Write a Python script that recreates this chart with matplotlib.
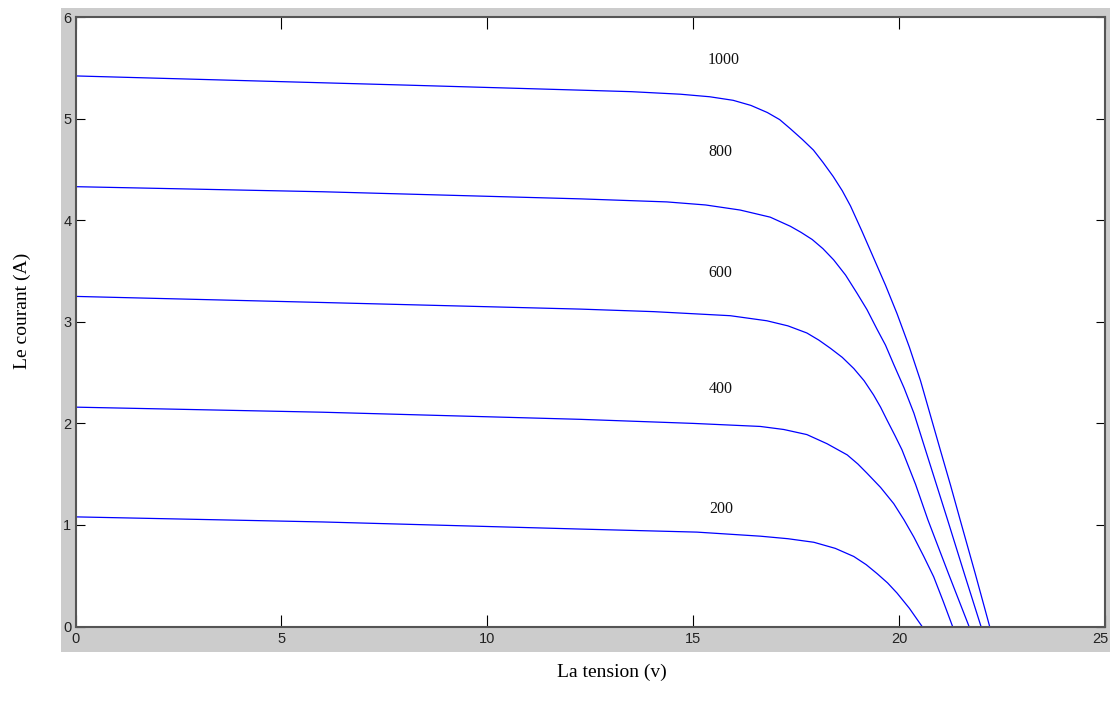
import matplotlib.pyplot as plt
from matplotlib.patches import Rectangle
from matplotlib.transforms import ScaledTranslation

# I-V curves of the PV panel for several irradiance levels (W/m2)
v_1000 = [0, 4, 8, 12.26, 13.5, 14.69, 15.4, 15.97, 16.4, 16.80, 17.1, 17.36, 17.65, 17.92,
          18.15, 18.40, 18.62, 18.82, 19.1, 19.38, 19.67, 19.95, 20.25, 20.52, 20.76, 21.00,
          21.25, 21.49, 21.85, 22.20]
i_1000 = [5.42, 5.375, 5.33, 5.28, 5.265, 5.24, 5.215, 5.18, 5.13, 5.06, 4.99, 4.90, 4.795, 4.69,
          4.57, 4.43, 4.29, 4.14, 3.89, 3.63, 3.36, 3.08, 2.75, 2.42, 2.08, 1.74,
          1.39, 1.04, 0.52, 0.0]

v_800 = [0, 6, 12.26, 14.36, 15.3, 16.14, 16.87, 17.36, 17.62, 17.89, 18.15, 18.41, 18.7, 18.98,
         19.22, 19.46, 19.67, 19.87, 20.12, 20.36, 20.64, 21.17, 21.6, 21.99]
i_800 = [4.33, 4.28, 4.21, 4.18, 4.15, 4.10, 4.03, 3.94, 3.88, 3.81, 3.72, 3.61, 3.46, 3.28,
         3.12, 2.93, 2.77, 2.58, 2.35, 2.10, 1.74, 1.06, 0.50, 0.0]

v_600 = [0, 6, 12.26, 14.04, 15.90, 16.79, 17.3, 17.76, 18.05, 18.33, 18.62, 18.90, 19.15, 19.38,
         19.55, 19.71, 19.9, 20.07, 20.4, 20.70, 21.2, 21.70]
i_600 = [3.25, 3.19, 3.125, 3.10, 3.06, 3.01, 2.96, 2.89, 2.82, 2.74, 2.65, 2.54, 2.42, 2.28,
         2.16, 2.03, 1.88, 1.74, 1.40, 1.05, 0.52, 0.0]

v_400 = [0, 6, 12.26, 15.0, 16.63, 17.2, 17.76, 18.25, 18.74, 19.0, 19.22, 19.55, 19.87, 20.12,
         20.36, 20.6, 20.84, 21.07, 21.30]
i_400 = [2.16, 2.11, 2.04, 2.00, 1.97, 1.94, 1.89, 1.80, 1.69, 1.60, 1.51, 1.37, 1.21, 1.05,
         0.88, 0.69, 0.49, 0.25, 0.0]

v_200 = [0, 6, 12.26, 15.09, 16.63, 17.3, 17.93, 18.45, 18.90, 19.2, 19.47, 19.72, 19.95, 20.25, 20.56]
i_200 = [1.08, 1.03, 0.96, 0.93, 0.89, 0.865, 0.83, 0.77, 0.69, 0.61, 0.52, 0.43, 0.33, 0.18, 0.0]

irradiance = ["1000", "800", "600", "400", "200"]
label_v = [15.73, 15.66, 15.66, 15.66, 15.68]
label_i = [5.58, 4.67, 3.48, 2.34, 1.16]

curves = [(v_1000, i_1000), (v_800, i_800), (v_600, i_600), (v_400, i_400), (v_200, i_200)]

W, H = 1110, 711
fig = plt.figure(figsize=(W / 100, H / 100), dpi=100)

# grey figure panel behind the axes
fig.patches.append(Rectangle((61 / W, 1 - 652 / H), (W - 61) / W, (652 - 8) / H,
                             transform=fig.transFigure, facecolor="#cccccc",
                             edgecolor="none", zorder=-5))

ax = fig.add_axes([75.5 / W, 1 - 626.6 / H, (1105 - 75.5) / W, (626.6 - 17) / H])
ax.set_zorder(1)
ax.set_facecolor("white")

for v, i in curves:
    ax.plot(v, i, color="#0000ff", lw=0.9)

for txt, x, y in zip(irradiance, label_v, label_i):
    ax.text(x, y, txt, ha="center", va="center", fontsize=11.5,
            family="Liberation Serif", color="#111111")

ax.set_xlim(0, 25)
ax.set_ylim(0, 6)
ax.set_xticks(range(0, 26, 5))
ax.set_yticks(range(0, 7))

for side in ax.spines.values():
    side.set_color("#555555")
    side.set_linewidth(1.5)

ax.tick_params(axis="x", direction="in", length=8.5, width=0.8, color="black",
               top=True, pad=4, labelsize=10.5)
ax.tick_params(axis="y", direction="in", length=6.5, width=0.8, color="black",
               right=True, pad=3, labelsize=10.5)
for lab in ax.get_xticklabels() + ax.get_yticklabels():
    lab.set_family("Liberation Sans")
    lab.set_color("#222222")

# keep the last x tick label inside the figure edge
last = ax.get_xticklabels()[-1]
last.set_transform(last.get_transform() + ScaledTranslation(-5 / 100, 0, fig.dpi_scale_trans))

fig.text(22 / W, 1 - 311 / H, "Le courant (A)", rotation=90, ha="center", va="center",
         fontsize=14, family="Liberation Serif")
fig.text(612 / W, 1 - 672 / H, "La tension (v)", ha="center", va="center",
         fontsize=14, family="Liberation Serif")

fig.savefig("out.png", dpi=100)
